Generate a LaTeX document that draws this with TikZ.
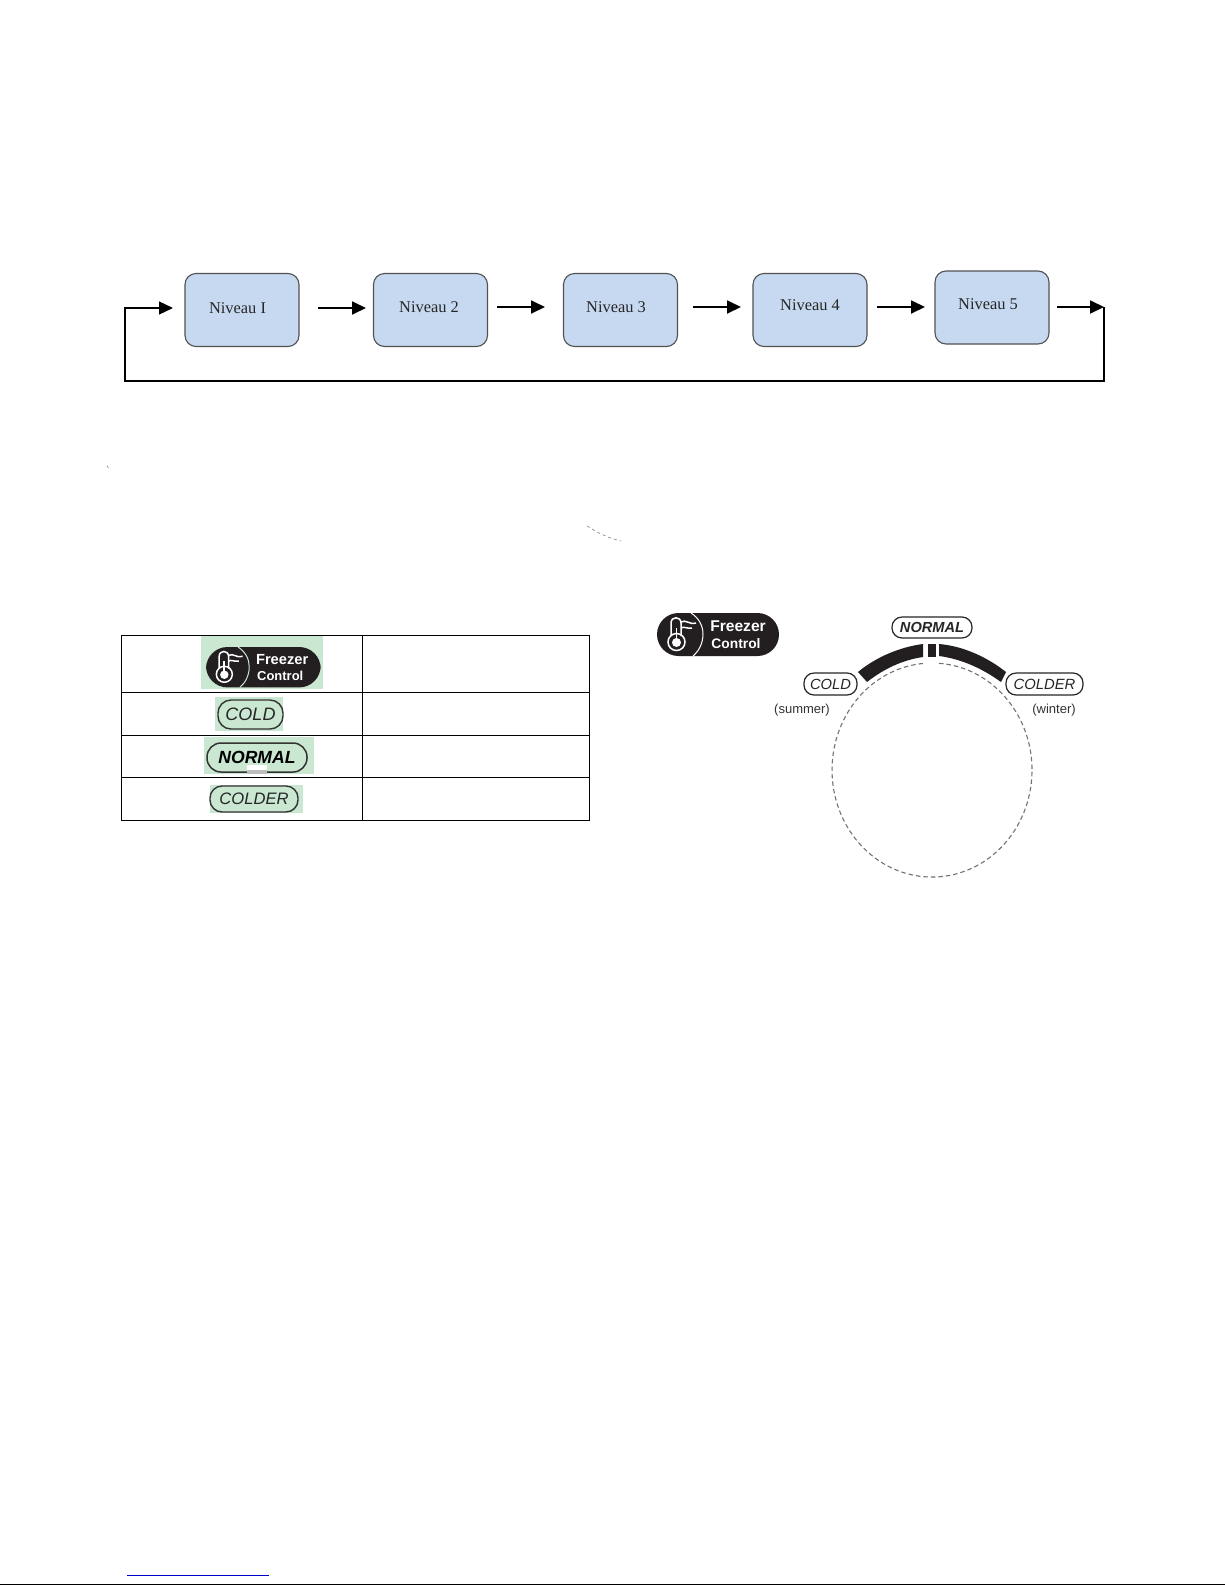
\documentclass[tikz,border=0pt]{standalone}
\usepackage{fontspec}
\setmainfont{Liberation Serif}
\setsansfont{Liberation Sans}
\usetikzlibrary{arrows.meta}
\definecolor{boxblue}{HTML}{C6D9F0}
\definecolor{logogreen}{HTML}{C9E7D1}
\definecolor{logoblack}{HTML}{231F20}
\definecolor{linkblue}{HTML}{0000CC}
\newcommand{\fsz}[1]{\fontsize{#1}{#1}\selectfont}
\tikzset{
  levelbox/.style={draw=black!68,line width=1.1pt,fill=boxblue,rounded corners=11pt,minimum width=114pt,minimum height=73pt,inner sep=0pt},
  levellabel/.style={font=\fsz{16.4},text=black!85,inner sep=0pt},
  flow/.style={draw=black,line width=1.8pt,-{Triangle[length=14pt,width=13pt]}},
  loopline/.style={draw=black,line width=1.3pt,line join=miter,-{Triangle[length=14pt,width=13pt]}},
  tableline/.style={draw=black,line width=0.9pt},
  swatch/.style={fill=logogreen,draw=none,inner sep=0pt},
  pill/.style={draw=black!85,line width=1.2pt,inner sep=0pt,font=\sffamily\itshape,text=black!85},
  tablepill/.style={pill,line width=1.4pt,draw=black!80,text=black!85},
  dialnote/.style={font=\sffamily\fsz{13},text=black!80,inner sep=0pt},
  dialband/.style={fill=logoblack,draw=none},
}
% #1 prefix, #2 x, #3 y, #4 scale, #5 separator colour
\newcommand{\freezerlogo}[5]{%
  \begin{scope}[shift={(#2,#3)},scale=#4]
    \fill[logoblack,rounded corners=21.5pt] (0,0) rectangle (122,43);
    \draw[#5,line width=1pt] (34,0) .. controls (42,5) and (46,13) .. (46,21) .. controls (46,30) and (42,38) .. (36,43);
    \draw[white,line width=1.5pt] (14,23) -- (14,10) .. controls (14,3) and (24,3) .. (24,10) -- (24,23);
    \draw[white,line width=1.5pt] (19.5,29) circle[radius=8.5pt];
    \fill[white] (19.5,29.5) circle[radius=4.5pt];
    \draw[white,line width=1.8pt] (19.5,29) -- (19.5,15);
    \draw[white,line width=1.5pt] (24,9) .. controls (29,6) and (32,12) .. (39,10);
    \draw[white,line width=1.5pt] (24,15) .. controls (27,13) and (30,16) .. (35,15);
    \node[transform shape,inner sep=0pt,text=white,font=\sffamily\bfseries\fsz{15.6}] (#1f) at (81,13.5) {Freezer};
    \node[transform shape,inner sep=0pt,text=white,font=\sffamily\bfseries\fsz{13.8}] (#1c) at (79,31) {Control};
  \end{scope}}
\begin{document}
\begin{tikzpicture}[x=1pt,y=-1pt]
\useasboundingbox (0,0) rectangle (1225,1585);
\fill[white] (0,0) rectangle (1225,1585);

% ---- level chain
\node[levelbox] (b1) at (242,310) {};
\node[levelbox] (b2) at (430.5,310) {};
\node[levelbox] (b3) at (620.5,310) {};
\node[levelbox] (b4) at (810,310) {};
\node[levelbox] (b5) at (992,307.5) {};
\node[levellabel] (t1) at (237.5,308) {Niveau I};
\node[levellabel] (t2) at (429,307) {Niveau 2};
\node[levellabel] (t3) at (616,307) {Niveau 3};
\node[levellabel] (t4) at (810,305) {Niveau 4};
\node[levellabel] (t5) at (988,304) {Niveau 5};

\coordinate (a1) at (173,308);
\coordinate (a2s) at (318,308); \coordinate (a2e) at (366,308);
\coordinate (a3s) at (497,307); \coordinate (a3e) at (545,307);
\coordinate (a4s) at (693,307); \coordinate (a4e) at (741,307);
\coordinate (a5s) at (877,307); \coordinate (a5e) at (925,307);
\coordinate (a6s) at (1057,307); \coordinate (a6e) at (1104,307);
\coordinate (lr) at (1104,381);
\coordinate (ll) at (125,381);
\coordinate (lt) at (125,308);

\draw[flow] (a2s) -- (a2e);
\draw[flow] (a3s) -- (a3e);
\draw[flow] (a4s) -- (a4e);
\draw[flow] (a5s) -- (a5e);
\draw[flow] (a6s) -- (a6e);
\draw[loopline] (a6e) -- (lr) -- (ll) -- (lt) -- (a1);

% ---- stray dashes
\draw[black!45,line width=0.6pt] (107,465.5) -- (108.5,468);
\draw[black!45,line width=0.7pt,dash pattern=on 3pt off 3pt] (587,526) .. controls (598,533) and (608,538) .. (621,541);

% ---- table
\fill[swatch] (201,635) rectangle (323,689);
\fill[swatch] (215,697) rectangle (283,731);
\fill[swatch] (204,737) rectangle (314,774);
\fill[swatch] (210,785) rectangle (303,813);
\draw[tableline] (121,635) rectangle (589,820);
\draw[tableline] (362,635) -- (362,820);
\draw[tableline] (121,692) -- (589,692);
\draw[tableline] (121,735) -- (589,735);
\draw[tableline] (121,777) -- (589,777);

\freezerlogo{tl}{206}{647}{0.94}{logogreen}
\node[tablepill,rounded corners=13pt,minimum width=65pt,minimum height=29pt,font=\sffamily\itshape\fsz{18}] (tcold) at (250.5,714.5) {COLD};
\node[tablepill,line width=1.5pt,text=black,rounded corners=14pt,minimum width=100pt,minimum height=29pt,font=\sffamily\bfseries\itshape\fsz{17.6}] (tnorm) at (257,757.5) {NORMAL};
\fill[white] (247,765) rectangle (267,770);
\fill[black!25] (247,770) rectangle (267,774);
\node[tablepill,rounded corners=12pt,minimum width=88pt,minimum height=26pt,font=\sffamily\itshape\fsz{16.6}] (tcolder) at (254,799) {COLDER};

% ---- dial
\freezerlogo{dl}{657}{613}{1}{white}
\draw[black!55,line width=1.1pt,dash pattern=on 4.5pt off 3pt]
  (939,663.3) arc[start angle=86,end angle=-266,x radius=100pt,y radius=107pt];
\fill[dialband] (858,672) .. controls (876,657) and (900,647) .. (923,644) -- (923,657) .. controls (903,660) and (885,668) .. (867,682) -- cycle;
\fill[dialband] (928,644) rectangle (936,657);
\fill[dialband] (939,644) .. controls (963,646) and (987,657) .. (1006,672) -- (1001,682) .. controls (983,669) and (962,659) .. (939,656) -- cycle;
\node[pill,rounded corners=10pt,minimum width=80pt,minimum height=21pt,font=\sffamily\bfseries\itshape\fsz{14.6}] (dnorm) at (932,627.5) {NORMAL};
\node[pill,fill=white,rounded corners=10pt,minimum width=53pt,minimum height=22pt,font=\sffamily\itshape\fsz{14.7}] (dcold) at (830.5,684) {COLD};
\node[pill,fill=white,rounded corners=10pt,minimum width=77pt,minimum height=22pt,font=\sffamily\itshape\fsz{14.8}] (dcolder) at (1044.5,684) {COLDER};
\node[dialnote] (sum) at (802,710) {(summer)};
\node[dialnote] (win) at (1054,710) {(winter)};

% ---- page foot
\draw[linkblue,line width=1.1pt] (127,1575.3) -- (269,1575.3);
\draw[black,line width=1.2pt] (0,1584.3) -- (1225,1584.3);
\end{tikzpicture}
\end{document}
